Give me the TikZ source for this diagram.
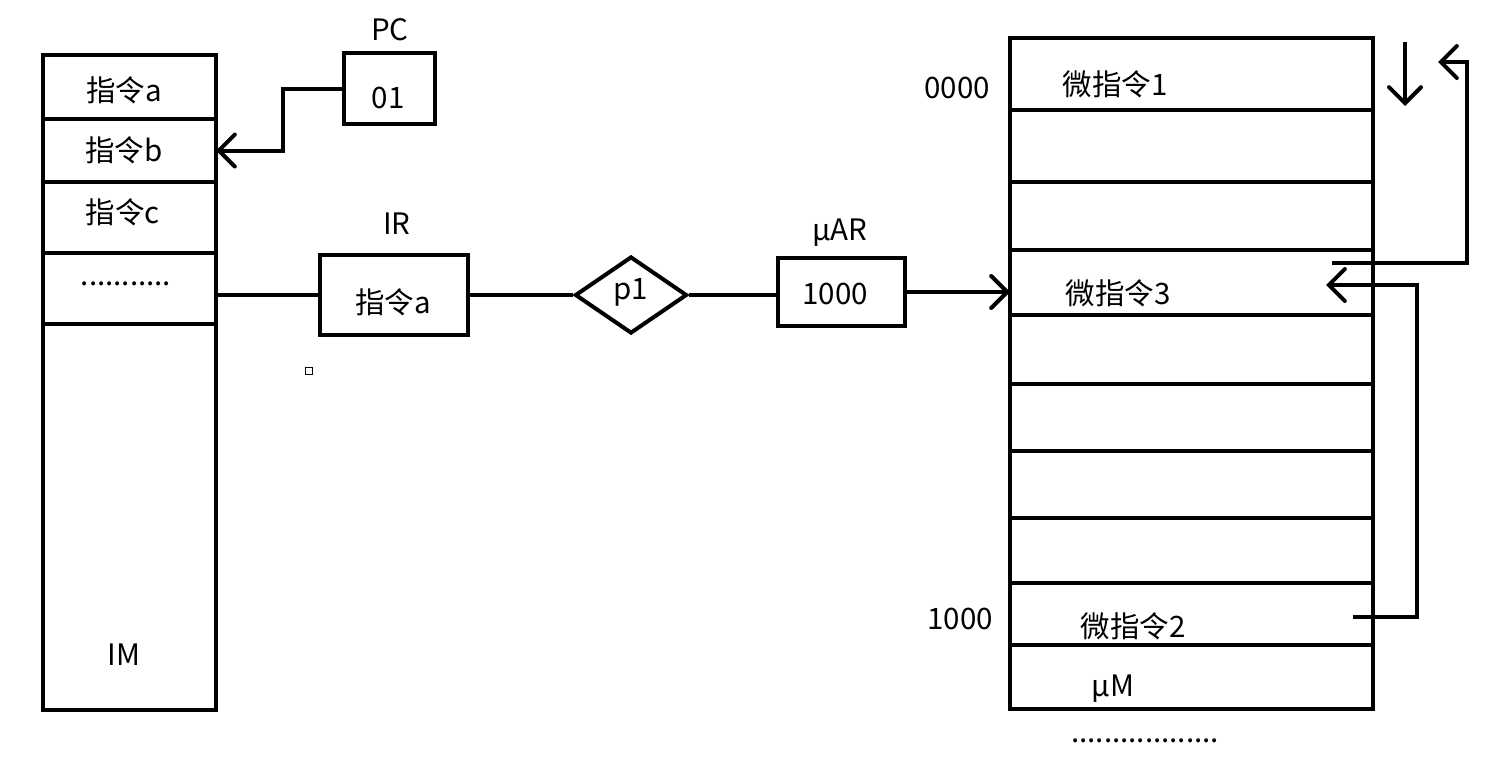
\documentclass[tikz,border=0pt]{standalone}
\usepackage{fontspec}
\setmainfont{Noto Sans CJK SC}
\usetikzlibrary{arrows.meta,shapes.geometric}
\begin{document}
\begin{tikzpicture}[x=1pt,y=-1pt,
  cell/.style={draw,line width=4pt,inner sep=0pt,outer sep=0pt,rectangle},
  txt/.style={font=\fontsize{29.5}{32}\selectfont,inner sep=0pt},
  wire/.style={line width=4pt},
  arr/.style={line width=4pt,-{Straight Barb[length=16pt,width=32pt,line cap=round]}}]
\useasboundingbox (0,0) rectangle (1498,764);
% IM column
\foreach \a/\b [count=\i] in {55/119,119/182,182/253,253/324,324/710}{
  \pgfmathsetmacro\h{\b-\a}\pgfmathsetmacro\c{(\a+\b)/2}
  \node[cell,minimum width=173pt,minimum height=\h pt] (im\i) at (129.5,\c) {};
}
\node[txt] (ta) at (124,90) {指令a};
\node[txt] (tb) at (124,150) {指令b};
\node[txt] (tc) at (123,212) {指令c};
\node[txt] (td) at (126,284) {...........};
\node[txt] (tim) at (124,655) {IM};
% PC
\node[cell,minimum width=91pt,minimum height=71pt] (pc) at (389.5,88.5) {};
\node[txt] (pcl) at (390,30) {PC};
\node[txt] (pcv) at (388,98) {01};
\coordinate (pcbend) at (283,150.5);
\draw[arr] (pc.west) -| (pcbend) -- (im2.east);
% IR
\node[cell,minimum width=148pt,minimum height=80pt] (ir) at (394,295) {};
\node[txt] (irl) at (397,224) {IR};
\node[txt] (irv) at (393,302) {指令a};
\draw[wire] (ir.west) -- (ir.west -| im4.east);
% diamond
\node[draw,diamond,line width=4pt,inner sep=0pt,minimum width=112pt,minimum height=77pt] (p1) at (631,295) {};
\node[txt] (p1t) at (631,292) {p1};
\draw[wire] (ir.east) -- (p1.west);
% uAR
\node[cell,minimum width=127pt,minimum height=68pt] (uar) at (841.5,292) {};
\node[txt] (uarl) at (840,233) {µAR};
\node[txt] (uarv) at (835,294) {1000};
\draw[wire] (p1.east) -- (p1.east -| uar.west);
% uM column
\foreach \a/\b [count=\i] in {38/110,110/182,182/250,250/315,315/384,384/451,451/518,518/583,583/645,645/709}{
  \pgfmathsetmacro\h{\b-\a}\pgfmathsetmacro\c{(\a+\b)/2}
  \node[cell,minimum width=363pt,minimum height=\h pt] (m\i) at (1191.5,\c) {};
}
\draw[arr] (uar.east) -- (uar.east -| m4.west);
\node[txt] (m1t) at (1115,84) {微指令1};
\node[txt] (a0) at (957,88) {0000};
\node[txt] (m4t) at (1118,293) {微指令3};
\node[txt] (m9t) at (1133,626) {微指令2};
\node[txt] (a1) at (960,619) {1000};
\node[txt] (mmt) at (1113,689) {µM};
\node[txt] (mdots) at (1145,741) {..................};
% right side arrows
\coordinate (dA) at (1405,42);
\coordinate (dB) at (1405,106);
\draw[arr] (dA) -- (dB);
\coordinate (l1s) at (1332,263);
\coordinate (l1c) at (1467,62);
\coordinate (l1e) at (1438,62);
\draw[arr] (l1s) -| (l1c) -- (l1e);
\coordinate (l2s) at (1353,617);
\coordinate (l2c) at (1417,285);
\coordinate (l2e) at (1326,285);
\draw[arr] (l2s) -| (l2c) -- (l2e);
% small square
\node[draw,line width=1pt,minimum size=7pt,inner sep=0pt] (sq) at (309,371) {};
\end{tikzpicture}
\end{document}
